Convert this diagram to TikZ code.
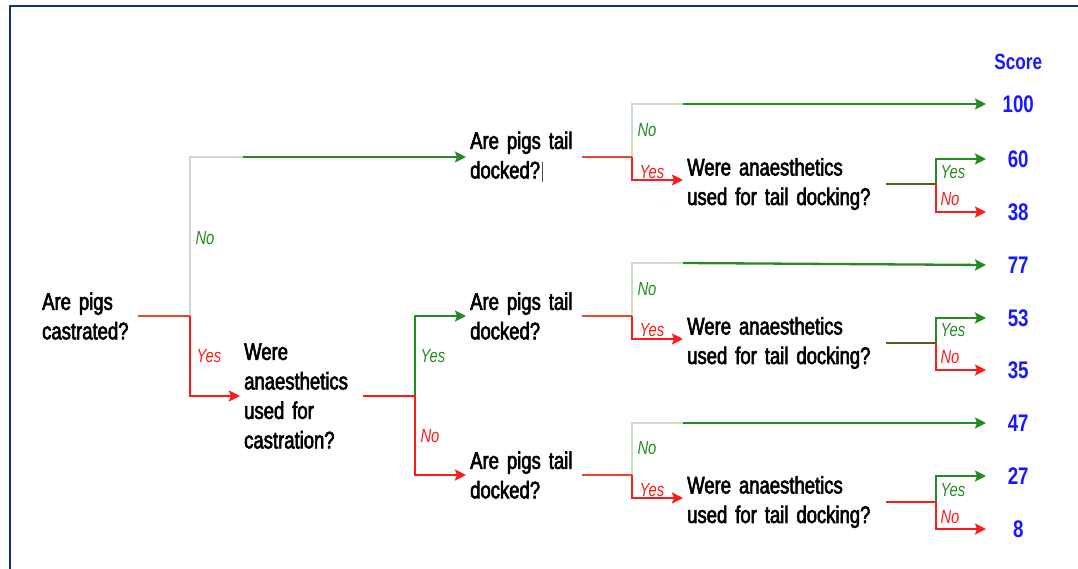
\documentclass[tikz,border=0pt]{standalone}
\usepackage{fontspec}
\setmainfont{Liberation Sans}[FakeStretch=0.78]
\newfontfamily\qfont{Liberation Sans}[FakeStretch=0.77, FakeBold=2.5]
\definecolor{treegreen}{RGB}{34, 139, 34}
\definecolor{treered}{RGB}{255, 25, 25}
\definecolor{stemred}{RGB}{232, 72, 40}
\definecolor{stemolive}{RGB}{88, 92, 30}
\definecolor{palegreen}{RGB}{200, 220, 200}
\definecolor{scoreblue}{RGB}{25, 25, 255}
\definecolor{framenavy}{RGB}{25, 50, 110}
\usetikzlibrary{arrows.meta, positioning}

\begin{document}
\begin{tikzpicture}[x=1pt, y=-1pt,
  qtext/.style={anchor=west, align=left, inner sep=4pt, font=\qfont\fontsize{24}{29.5}\selectfont},
  score/.style={anchor=west, inner sep=0pt, minimum width=64pt, text=scoreblue, font=\fontsize{24}{28}\selectfont\bfseries},
  lbl/.style={inner sep=0pt, font=\fontsize{19}{22}\selectfont\itshape},
  yesarr/.style={-{Stealth[length=11pt, width=11pt, inset=2pt]}, line width=2.3pt, treegreen},
  noarr/.style={-{Stealth[length=11pt, width=11pt, inset=2pt]}, line width=2.3pt, treered},
  pale/.style={line width=1.2pt, palegreen},
  stem/.style={line width=2.3pt, stemred}]
  \useasboundingbox (0,0) rectangle (1078,569);
  \draw[line width=2.5pt, framenavy] (10,575) -- (10,6) -- (1085,6);

  % questions
  \node[qtext, text width=92pt] (castr) at (38,316) {Are pigs\\castrated?};
  \node[qtext, text width=115pt] (anaC) at (240,396) {Were\\anaesthetics\\used for\\castration?};
  \node[qtext, text width=108pt] (dockA) at (466,157) {Are pigs tail\\docked?\rlap{\hspace{2pt}\color{black!70}\rule[-4pt]{0.8pt}{20pt}}};
  \node[qtext, text width=108pt] (dockB) at (466,316) {Are pigs tail\\docked?};
  \node[qtext, text width=108pt] (dockC) at (466,475) {Are pigs tail\\docked?};
  \node[qtext, text width=195pt] (tdA) at (683,184) {Were anaesthetics\\used for tail docking?};
  \node[qtext, text width=195pt] (tdB) at (683,343) {Were anaesthetics\\used for tail docking?};
  \node[qtext, text width=195pt] (tdC) at (683,502) {Were anaesthetics\\used for tail docking?};

  % scores
  \node[score, font=\fontsize{22}{26}\selectfont\bfseries] (scorehead) at (986,62) {Score};
  \node[score] (s100) at (986,104) {100};
  \node[score] (s60) at (986,159) {60};
  \node[score] (s38) at (986,212) {38};
  \node[score] (s77) at (986,265) {77};
  \node[score] (s53) at (986,318) {53};
  \node[score] (s35) at (986,370) {35};
  \node[score] (s47) at (986,423) {47};
  \node[score] (s27) at (986,476) {27};
  \node[score] (s8) at (986,529) {8};

  % branch points
  \coordinate (b0) at (190,316);
  \coordinate (k0) at (243,157);
  \coordinate (b1) at (415,396);
  \coordinate (bA) at (632,157);
  \coordinate (kA) at (683,104);
  \coordinate (cA) at (936,184);
  \coordinate (bB) at (632,316);
  \coordinate (kB) at (683,263);
  \coordinate (cB) at (936,343);
  \coordinate (bC) at (632,475);
  \coordinate (kC) at (683,423);
  \coordinate (cC) at (936,502);

  % castration
  \draw[pale] (b0) |- (k0);
  \draw[yesarr] (k0) -- (dockA.west);
  \draw[stem] (castr.east) -- (b0);
  \draw[noarr] (b0) |- (anaC.west);
  \draw[line width=2.3pt, treered] (anaC.east) -- (b1);
  \draw[yesarr] (b1) |- (dockB.west);
  \draw[noarr] (b1) |- (dockC.west);

  % tail docking, top
  \draw[pale] (bA) |- (kA);
  \draw[yesarr] (kA) -- (s100.west);
  \draw[stem] (dockA.east) -- (bA);
  \draw[noarr] (bA) |- ([yshift=4pt]tdA.west);
  \draw[line width=2.3pt, stemolive] (tdA.east) -- (cA);
  \draw[yesarr] (cA) |- (s60.west);
  \draw[noarr] (cA) |- (s38.west);

  % tail docking, middle
  \draw[pale] (bB) |- (kB);
  \draw[yesarr] (kB) -- (s77.west);
  \draw[stem] (dockB.east) -- (bB);
  \draw[noarr] (bB) |- ([yshift=4pt]tdB.west);
  \draw[line width=2.3pt, stemolive] (tdB.east) -- (cB);
  \draw[yesarr] (cB) |- (s53.west);
  \draw[noarr] (cB) |- (s35.west);

  % tail docking, bottom
  \draw[pale] (bC) |- (kC);
  \draw[yesarr] (kC) -- (s47.west);
  \draw[stem] (dockC.east) -- (bC);
  \draw[noarr] (bC) |- ([yshift=4pt]tdC.west);
  \draw[line width=2.3pt, treered] (tdC.east) -- (cC);
  \draw[yesarr] (cC) |- (s27.west);
  \draw[noarr] (cC) |- (s8.west);

  % branch labels
  \node[lbl, treegreen] (no0) at (205,238) {No};
  \node[lbl, treered] (yes0) at (209,356) {Yes};
  \node[lbl, treegreen] (yes1) at (433,356) {Yes};
  \node[lbl, treered] (no1) at (430,436) {No};
  \node[lbl, treegreen] (noA) at (647,130) {No};
  \node[lbl, treered] (yesA) at (652,172) {Yes};
  \node[lbl, treegreen] (noB) at (647,289) {No};
  \node[lbl, treered] (yesB) at (652,330) {Yes};
  \node[lbl, treegreen] (noC) at (647,448) {No};
  \node[lbl, treered] (yesC) at (652,490) {Yes};
  \node[lbl, treegreen] (yesAt) at (953,172) {Yes};
  \node[lbl, treered] (noAt) at (950,199) {No};
  \node[lbl, treegreen] (yesBt) at (953,330) {Yes};
  \node[lbl, treered] (noBt) at (950,357) {No};
  \node[lbl, treegreen] (yesCt) at (953,490) {Yes};
  \node[lbl, treered] (noCt) at (950,517) {No};
\end{tikzpicture}
\end{document}
